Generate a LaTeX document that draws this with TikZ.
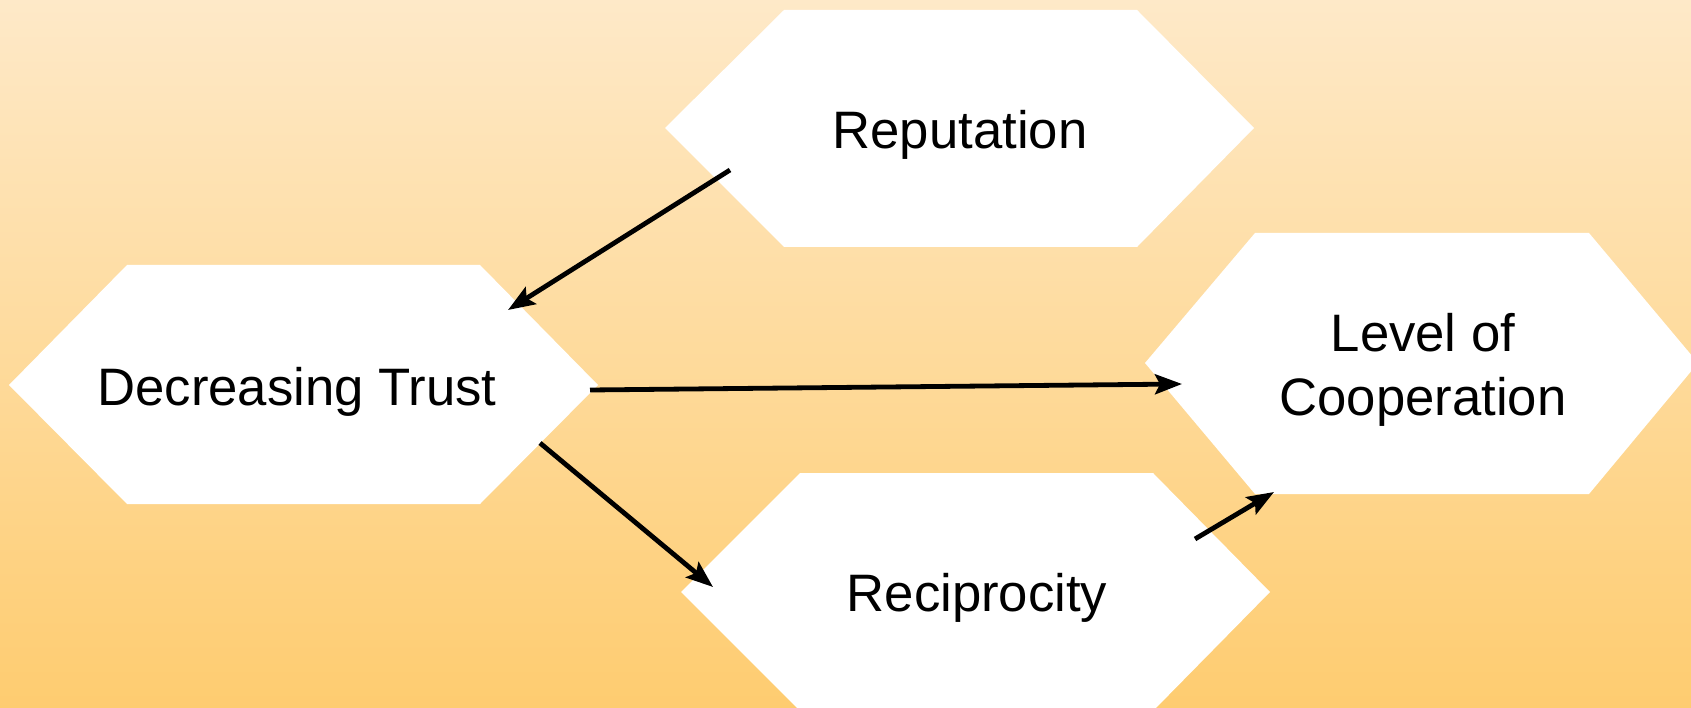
\documentclass[tikz,border=0pt]{standalone}
\usepackage{fontspec}
\setmainfont{Liberation Sans}
\usetikzlibrary{arrows.meta}
\definecolor{bgtop}{RGB}{254,233,200}
\definecolor{bgbot}{RGB}{254,204,112}
\tikzset{
  hexbox/.style={fill=white, draw=none},
  label/.style={font=\fontsize{52.7}{64}\selectfont, align=center, inner sep=0pt},
  link/.style={line width=4.8pt, draw=black,
    -{Stealth[length=27pt, width=20pt, inset=5pt]}},
}
\begin{document}
\begin{tikzpicture}[x=1pt, y=-1pt]
  \useasboundingbox (0,0) rectangle (1691,708);
  \clip (0,0) rectangle (1691,708);
  \shade[top color=bgtop, bottom color=bgbot] (0,0) rectangle (1691,708);

  % hexagonal boxes
  \fill[hexbox] (665,128) -- (784,10) -- (1137,10) -- (1254,128) -- (1137,247) -- (784,247) -- cycle;
  \fill[hexbox] (9,385) -- (127,265) -- (480,265) -- (598,385) -- (480,504) -- (127,504) -- cycle;
  \fill[hexbox] (1145,363) -- (1255,233) -- (1589,233) -- (1698,363) -- (1589,494) -- (1255,494) -- cycle;
  \fill[hexbox] (681,592) -- (800,473) -- (1153,473) -- (1270,592) -- (1153,711) -- (800,711) -- cycle;

  % labels
  \node[label] (rep) at (960,135) {Reputation};
  \node[label] (trust) at (297,392) {Decreasing Trust};
  \node[label] (coop) at (1423,370) {Level of\\Cooperation};
  \node[label] (recip) at (977,598) {Reciprocity};

  % connector end points
  \coordinate (rep-out) at (730,170);
  \coordinate (trust-in) at (508,310);
  \coordinate (trust-east) at (590,390);
  \coordinate (coop-in) at (1182,384);
  \coordinate (trust-se) at (540,443);
  \coordinate (recip-in) at (713,587);
  \coordinate (recip-out) at (1195,539);
  \coordinate (coop-sw) at (1274,492);

  % connectors
  \draw[link] (rep-out) -- (trust-in);
  \draw[link] (trust-east) -- (coop-in);
  \draw[link] (trust-se) -- (recip-in);
  \draw[link] (recip-out) -- (coop-sw);
\end{tikzpicture}
\end{document}
